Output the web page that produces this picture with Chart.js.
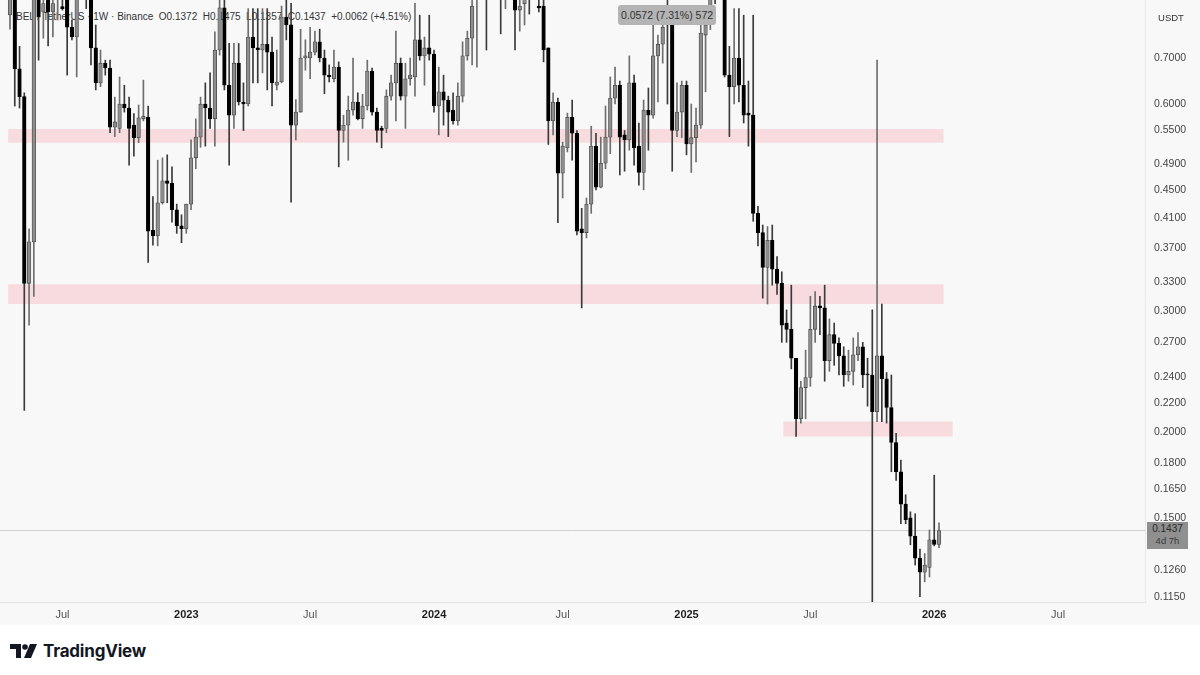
<!DOCTYPE html>
<html>
<head>
<meta charset="utf-8">
<script src="https://cdn.jsdelivr.net/npm/chart.js@4/dist/chart.umd.min.js"></script>
<style>
  html,body{margin:0;padding:0;background:#fff;}
  #wrap{position:relative;width:1200px;height:675px;background:#fff;overflow:hidden;font-family:"Liberation Sans","DejaVu Sans",Arial,sans-serif;}
  #bg{position:absolute;left:0;top:0;width:1200px;height:625px;background:#f8f8f8;}
  #legend{position:absolute;left:16px;top:11px;font-size:10px;color:#333;white-space:pre;z-index:1;}
  #cv{position:absolute;left:0;top:0;z-index:2;}
  #measure{position:absolute;left:618px;top:5px;width:98px;height:20px;line-height:20px;text-align:center;background:#b4b4b4;color:#333;font-size:10.5px;border-radius:3px;z-index:3;}
  #unit{position:absolute;left:1147px;top:12px;width:48px;text-align:center;font-size:9.5px;color:#333;z-index:3;}
  #pbox{position:absolute;left:1147px;top:522px;width:41px;height:27px;background:#8f8f8f;color:#2a2a2a;font-size:10px;line-height:12px;text-align:center;z-index:3;padding-top:1px;box-sizing:border-box;}
  #pbox .s{color:#3c3c3c;font-size:9.5px;}
  #logo{position:absolute;left:10px;top:640px;height:22px;display:flex;align-items:center;z-index:3;}
  #logo span{font-family:"Inter","Liberation Sans",sans-serif;font-weight:700;font-size:17px;color:#131722;margin-left:5px;letter-spacing:-0.2px;}
</style>
</head>
<body>
<div id="wrap">
  <div id="bg"></div>
  <div id="legend">BEL / TetherUS · 1W · Binance  O0.1372  H0.1475  L0.1357  C0.1437  +0.0062 (+4.51%)</div>
  <canvas id="cv" width="1200" height="625"></canvas>
  <div id="measure">0.0572 (7.31%) 572</div>
  <div id="unit">USDT</div>
  <div id="pbox">0.1437<br><span class="s">4d 7h</span></div>
  <div id="logo">
    <svg width="28" height="16" viewBox="0 0 28 16">
      <path d="M0 1h11v14H6V6H0z" fill="#131722"/>
      <circle cx="15" cy="4" r="2.8" fill="#131722"/>
      <path d="M20 1h7l-6 14h-7z" fill="#131722"/>
    </svg>
    <span>TradingView</span>
  </div>
</div>
<script>
// ---- data: BEL/USDT weekly candles, first candle week of 2022-04-11 ----
const firstWeek = '2022-04-11';
const open = [0.8085,0.90,0.675,0.615,0.329,0.378,0.88,0.817,0.87,0.817,0.86,0.832,0.88,0.776,0.751,0.88,0.92,0.89,0.724,0.644,
0.688,0.677,0.555,0.553,0.600,0.592,0.559,0.536,0.571,0.574,0.393,0.386,0.431,0.464,0.460,0.421,0.399,0.395,0.429,0.501,
0.537,0.600,0.592,0.571,0.719,0.828,0.639,0.578,0.688,0.604,0.600,0.751,0.724,0.719,0.733,0.714,0.639,0.646,0.803,0.782,
0.559,0.584,0.700,0.700,0.714,0.739,0.700,0.661,0.653,0.679,0.549,0.559,0.588,0.604,0.571,0.596,0.670,0.584,0.553,0.553,
0.616,0.644,0.688,0.616,0.653,0.657,0.744,0.705,0.724,0.709,0.596,0.625,0.608,0.588,0.567,0.616,0.705,0.748,0.86,0.95,
0.92,0.88,0.95,1.0,0.92,0.95,0.90,0.822,0.84,0.88,0.86,0.833,0.833,0.724,0.567,0.604,0.476,0.518,0.574,0.544,
0.395,0.390,0.429,0.521,0.454,0.492,0.537,0.612,0.639,0.541,0.532,0.644,0.521,0.477,0.588,0.578,0.705,0.733,0.790,0.782,
0.549,0.584,0.639,0.525,0.536,0.559,0.756,0.79,0.92,0.88,0.95,0.661,0.636,0.700,0.639,0.582,0.578,0.416,0.390,0.347,
0.380,0.345,0.329,0.288,0.282,0.256,0.209,0.232,0.240,0.282,0.305,0.303,0.254,0.277,0.269,0.258,0.242,0.245,0.259,0.266,
0.243,0.242,0.214,0.258,0.239,0.217,0.193,0.175,0.157,0.150,0.141,0.131,0.125,0.127,0.1393,0.1372];
const high = [0.95,0.95,0.728,0.623,0.395,0.95,0.93,0.90,0.92,0.90,0.96,0.88,0.92,0.795,0.90,0.98,0.95,0.93,0.782,0.719,
0.695,0.695,0.614,0.657,0.639,0.614,0.581,0.598,0.650,0.596,0.440,0.497,0.501,0.506,0.486,0.429,0.414,0.429,0.532,0.571,
0.614,0.644,0.666,0.764,0.87,0.86,0.735,0.735,0.735,0.644,0.826,0.826,0.826,0.826,0.826,0.751,0.719,0.833,0.85,0.841,
0.609,0.771,0.744,0.776,0.766,0.771,0.719,0.684,0.719,0.691,0.578,0.616,0.700,0.623,0.620,0.695,0.677,0.592,0.557,0.629,
0.661,0.766,0.700,0.688,0.700,0.841,0.808,0.751,0.808,0.719,0.679,0.661,0.616,0.623,0.644,0.739,0.766,0.88,0.98,1.0,
0.96,1.0,1.05,1.05,1.0,0.98,0.93,0.88,0.90,0.92,0.95,0.86,0.86,0.724,0.623,0.612,0.528,0.582,0.608,0.549,
0.423,0.438,0.557,0.544,0.537,0.596,0.657,0.679,0.648,0.549,0.705,0.661,0.563,0.608,0.633,0.782,0.756,0.790,0.86,0.833,
0.644,0.648,0.648,0.600,0.592,0.787,0.808,0.97,1.0,1.05,1.0,0.728,0.826,0.826,0.808,0.648,0.808,0.426,0.400,0.398,
0.400,0.360,0.342,0.301,0.327,0.256,0.237,0.263,0.315,0.320,0.315,0.327,0.292,0.288,0.274,0.266,0.263,0.274,0.279,0.270,
0.256,0.301,0.695,0.307,0.244,0.242,0.199,0.182,0.162,0.153,0.152,0.135,0.133,0.144,0.173,0.1475];
const low = [0.771,0.596,0.592,0.215,0.286,0.315,0.695,0.748,0.729,0.751,0.795,0.822,0.661,0.744,0.657,0.86,0.826,0.684,0.629,0.636,
0.661,0.545,0.538,0.545,0.584,0.489,0.504,0.527,0.567,0.353,0.374,0.373,0.429,0.431,0.404,0.389,0.377,0.389,0.421,0.483,
0.519,0.521,0.553,0.521,0.707,0.629,0.489,0.553,0.598,0.549,0.596,0.644,0.644,0.666,0.629,0.596,0.629,0.644,0.744,0.432,
0.532,0.584,0.672,0.653,0.707,0.691,0.621,0.646,0.646,0.486,0.528,0.497,0.578,0.569,0.553,0.588,0.578,0.528,0.518,0.545,
0.608,0.567,0.608,0.553,0.639,0.616,0.695,0.639,0.695,0.584,0.541,0.559,0.538,0.561,0.559,0.604,0.695,0.684,0.679,0.87,
0.719,0.86,0.90,0.759,0.826,0.87,0.719,0.766,0.782,0.811,0.855,0.817,0.691,0.524,0.541,0.403,0.438,0.511,0.497,0.387,
0.303,0.383,0.416,0.450,0.453,0.483,0.508,0.600,0.473,0.479,0.514,0.489,0.457,0.450,0.514,0.572,0.604,0.688,0.600,0.479,
0.538,0.536,0.506,0.477,0.494,0.553,0.625,0.77,0.84,0.86,0.657,0.538,0.600,0.604,0.563,0.521,0.405,0.373,0.313,0.307,
0.327,0.317,0.270,0.270,0.247,0.197,0.206,0.209,0.233,0.270,0.277,0.237,0.245,0.250,0.242,0.233,0.237,0.234,0.254,0.232,
0.218,0.080,0.207,0.207,0.206,0.175,0.170,0.147,0.147,0.137,0.128,0.1151,0.121,0.123,0.1365,0.1357];
const close = [0.90,0.675,0.615,0.329,0.378,0.88,0.803,0.84,0.817,0.84,0.90,0.826,0.776,0.751,0.87,0.92,0.89,0.724,0.644,0.688,
0.677,0.555,0.565,0.600,0.592,0.553,0.536,0.573,0.576,0.392,0.386,0.431,0.464,0.460,0.421,0.399,0.395,0.429,0.501,0.537,
0.600,0.592,0.571,0.719,0.828,0.639,0.578,0.688,0.604,0.600,0.751,0.724,0.719,0.733,0.714,0.644,0.646,0.803,0.782,0.559,
0.584,0.700,0.705,0.714,0.739,0.700,0.661,0.657,0.679,0.549,0.559,0.588,0.604,0.571,0.596,0.670,0.584,0.549,0.549,0.616,
0.644,0.688,0.616,0.653,0.661,0.744,0.705,0.724,0.709,0.596,0.625,0.608,0.584,0.567,0.616,0.705,0.748,0.833,0.92,0.90,
0.88,0.95,1.0,0.92,0.95,0.90,0.822,0.833,0.87,0.86,0.90,0.828,0.719,0.567,0.604,0.476,0.521,0.574,0.544,0.392,
0.390,0.429,0.521,0.454,0.492,0.537,0.612,0.639,0.537,0.532,0.644,0.518,0.477,0.588,0.578,0.705,0.733,0.776,0.782,0.549,
0.584,0.639,0.525,0.536,0.559,0.761,0.782,0.92,0.88,0.95,0.661,0.636,0.700,0.639,0.578,0.578,0.416,0.390,0.347,0.380,
0.345,0.329,0.286,0.282,0.256,0.209,0.232,0.240,0.282,0.305,0.303,0.254,0.277,0.269,0.258,0.242,0.245,0.259,0.266,0.242,
0.242,0.214,0.258,0.239,0.217,0.193,0.175,0.157,0.149,0.141,0.131,0.125,0.128,0.1393,0.1372,0.1437];

// support / resistance zones [bottom, top] and their span in weeks from firstWeek
const zoneLow  = [0.527, 0.307, 0.197];
const zoneHigh = [0.552, 0.328, 0.207];
const zoneFrom = [-0.4, -0.4, 162.3];
const zoneTo   = [196.0, 196.0, 197.9];

// price axis ticks
const priceTicks = [0.7, 0.6, 0.55, 0.49, 0.45, 0.41, 0.37, 0.33, 0.30, 0.27, 0.24, 0.22, 0.20, 0.18, 0.165, 0.15, 0.126, 0.115];
// time axis ticks (week bar containing the period start)
const tickDates  = ['2022-06-27','2022-12-26','2023-06-26','2023-12-25','2024-07-01','2024-12-30','2025-06-30','2025-12-29','2026-06-29'];
const tickLabels = ['Jul','2023','Jul','2024','Jul','2025','Jul','2026','Jul'];

// ---- build ----
const WEEK = 7 * 864e5;
const weekIdx = d => Math.round((Date.parse(d) - Date.parse(firstWeek)) / WEEK);
const tickPos = tickDates.map(weekIdx);
const X_MIN = -2.1, X_MAX = 238.24;
const Y_MIN = 0.1131, Y_MAX = 0.8502;

const isUp = i => close[i] >= open[i];
const wickData = open.map((o, i) => ({x: i, y: [low[i], high[i]]}));
const bodyData = open.map((o, i) => ({x: i, y: [Math.min(o, close[i]), Math.max(o, close[i])]}));

const datasets = [];
for (let z = 0; z < zoneLow.length; z++) {
  datasets.push({type:'line', data:[{x:zoneFrom[z], y:zoneHigh[z]},{x:zoneTo[z], y:zoneHigh[z]}],
    borderWidth:0, pointRadius:0, fill:'+1', backgroundColor:'rgba(246,120,130,0.22)', order:10});
  datasets.push({type:'line', data:[{x:zoneFrom[z], y:zoneLow[z]},{x:zoneTo[z], y:zoneLow[z]}],
    borderWidth:0, pointRadius:0, fill:false, order:10});
}
const last = close.length - 1;
datasets.push({type:'line', data:[{x:X_MIN, y:close[last]},{x:X_MAX, y:close[last]}],
  borderColor:'#cfcfcf', borderWidth:1, pointRadius:0, fill:false, order:9});
datasets.push({type:'bar', data:wickData, barThickness:1, grouped:false, order:2,
  backgroundColor: c => isUp(c.dataIndex) ? '#6e6e6e' : '#3a3a3a'});
datasets.push({type:'bar', data:bodyData, barThickness:3.6, grouped:false, order:1, minBarLength:1,
  backgroundColor: c => isUp(c.dataIndex) ? '#8e8e8e' : '#000000',
  borderColor: c => isUp(c.dataIndex) ? '#4a4a4a' : '#000000', borderWidth:0.8, borderSkipped:false});

new Chart(document.getElementById('cv'), {
  type:'bar',
  data:{datasets},
  options:{
    responsive:false, animation:false, devicePixelRatio:1,
    layout:{padding:0},
    plugins:{legend:{display:false}, tooltip:{enabled:false}},
    scales:{
      x:{type:'linear', min:X_MIN, max:X_MAX, offset:false,
        grid:{display:false, drawTicks:false},
        border:{display:true, color:'#e4e4e4'},
        afterBuildTicks: a => { a.ticks = tickPos.map(v => ({value:v})); },
        afterFit: a => { a.height = 23; a.paddingLeft = 0; a.paddingRight = 0; },
        ticks:{autoSkip:false, maxRotation:0, padding:6,
          callback:(v, i) => tickLabels[i],
          color: c => /^\d/.test(tickLabels[c.index]) ? '#1e1e1e' : '#555',
          font: c => ({family:'"Liberation Sans","DejaVu Sans",sans-serif', size:11, weight: /^\d/.test(tickLabels[c.index]) ? 'bold' : 'normal'})}
      },
      y:{type:'logarithmic', position:'right', min:Y_MIN, max:Y_MAX,
        grid:{display:false, drawTicks:false},
        border:{display:true, color:'#e8e8e8'},
        afterBuildTicks: a => { a.ticks = priceTicks.map(v => ({value:v})); },
        afterFit: a => { a.width = 55; a.paddingTop = 0; a.paddingBottom = 0; },
        ticks:{padding:9, color:'#444', callback: v => Number(v).toFixed(4),
          font:{family:'"Liberation Sans","DejaVu Sans",sans-serif', size:10.5}}
      }
    }
  }
});
</script>
</body>
</html>
